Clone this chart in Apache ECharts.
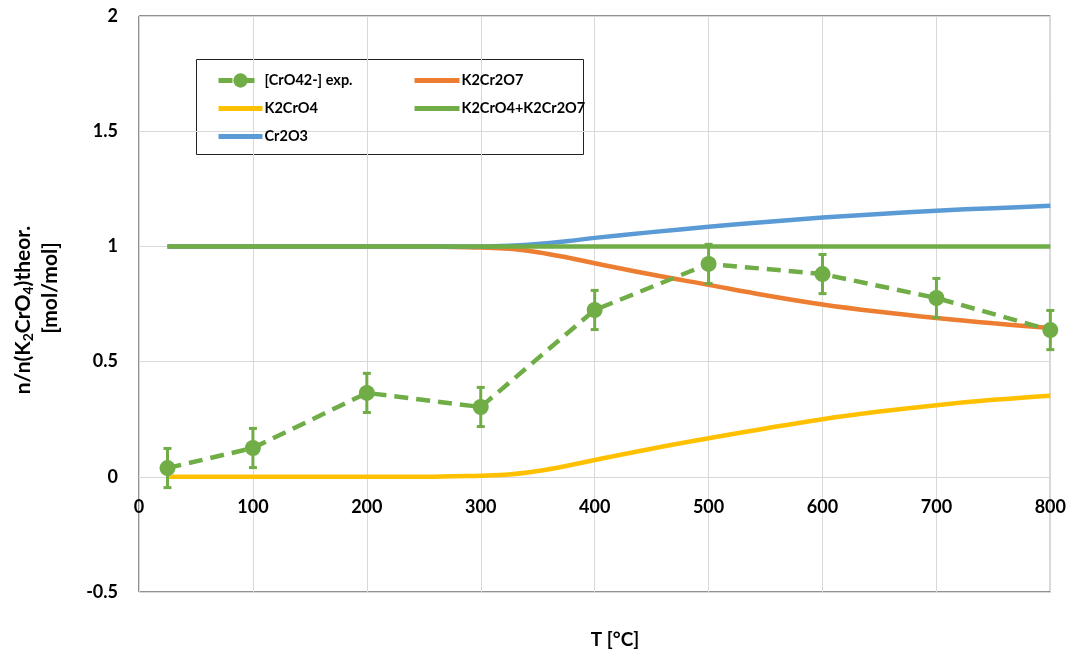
<!DOCTYPE html>
<html><head><meta charset="utf-8">
<script src="https://cdn.jsdelivr.net/npm/echarts@6/dist/echarts.min.js"></script>
<style>html,body{margin:0;padding:0;background:#fff}#c{width:1069px;height:649px}</style>
</head><body><div id="c"></div>
<script>
var expT = [25, 100, 200, 300, 400, 500, 600, 700, 800];
var expVal = [0.038, 0.125, 0.364, 0.303, 0.724, 0.924, 0.88, 0.776, 0.637];
var expErr = [0.085, 0.085, 0.085, 0.085, 0.085, 0.085, 0.085, 0.085, 0.085];

var curveT = [25, 100, 200, 250, 300, 325, 350, 375, 400, 450, 500, 550, 600, 650, 700, 750, 800];
var k2cr2o7 = [1, 1, 1, 1, 0.995, 0.99, 0.975, 0.953, 0.927, 0.878, 0.833, 0.788, 0.748, 0.716, 0.689, 0.666, 0.646];
var k2cro4 = [0, 0, 0, 0, 0.005, 0.01, 0.025, 0.047, 0.073, 0.122, 0.167, 0.21, 0.25, 0.283, 0.311, 0.334, 0.352];
var sumLine = [1, 1, 1, 1, 1, 1, 1, 1, 1, 1, 1, 1, 1, 1, 1, 1, 1];
var cr2o3 = [1, 1, 1, 1, 1, 1.003, 1.01, 1.022, 1.037, 1.062, 1.085, 1.106, 1.125, 1.141, 1.155, 1.166, 1.176];

var yTicks = ['-0.5', '0', '0.5', '1', '1.5', '2'];

var FONT = 'Lato, "Open Sans", sans-serif';
var cGreen = '#70AD47', cOrange = '#ED7D31', cYellow = '#FFC000', cBlue = '#5B9BD5';

function pairs(xs, ys) { return xs.map(function (x, i) { return [x, ys[i]]; }); }

var legendText = { fontSize: 14.5, fontWeight: 'bold', color: '#000', fontFamily: FONT, padding: [0, 0, 0, -3] };
var hideSym = { opacity: 0 };

var chart = echarts.init(document.getElementById('c'));
chart.setOption({
  animation: false,
  textStyle: { fontFamily: FONT },
  grid: { left: 139, right: 18, top: 16, bottom: 57, show: true, borderColor: '#222', borderWidth: 1 },
  xAxis: {
    type: 'value', min: 0, max: 800, interval: 100, position: 'bottom', offset: -115.2,
    axisLine: { show: true, onZero: false, lineStyle: { color: '#d9d9d9', width: 1 } },
    axisTick: { show: false },
    axisLabel: { fontSize: 18, fontWeight: 'bold', color: '#000', margin: 21, fontFamily: FONT },
    splitLine: { show: true, lineStyle: { color: '#d9d9d9', width: 1 } }
  },
  yAxis: {
    type: 'value', min: -0.5, max: 2, interval: 0.5,
    axisLine: { show: false }, axisTick: { show: false },
    axisLabel: { fontSize: 18, fontWeight: 'bold', color: '#000', margin: 21, fontFamily: FONT,
      formatter: function (v) { return yTicks[Math.round((v + 0.5) / 0.5)]; } },
    splitLine: { show: true, lineStyle: { color: '#d9d9d9', width: 1 } }
  },
  legend: [
    { orient: 'vertical', left: 211, top: 68, itemWidth: 44, itemHeight: 18, itemGap: 13,
      textStyle: legendText, lineStyle: { width: 5 },
      data: ['[CrO42-] exp.', { name: 'K2CrO4', itemStyle: hideSym }, { name: 'Cr2O3', itemStyle: hideSym }] },
    { orient: 'vertical', left: 407, top: 68, itemWidth: 45, itemHeight: 18, itemGap: 13,
      textStyle: legendText, lineStyle: { width: 5 },
      data: [{ name: 'K2Cr2O7', itemStyle: hideSym }, { name: 'K2CrO4+K2Cr2O7', itemStyle: hideSym }] }
  ],
  graphic: [
    { type: 'rect', left: 196, top: 59, shape: { width: 387, height: 95 },
      style: { fill: 'rgba(255,255,255,0)', stroke: '#222', lineWidth: 1 }, z: 0 },
    { type: 'text', x: 23, y: 310, rotation: Math.PI / 2, z: 10,
      style: {
        text: '{a|n/n(K}{s|2}{a|CrO}{s|4}{a|)theor.}',
        align: 'center', verticalAlign: 'middle',
        rich: {
          a: { fontSize: 21, fontWeight: 'bold', fill: '#000', fontFamily: FONT },
          s: { fontSize: 14, fontWeight: 'bold', fill: '#000', fontFamily: FONT, padding: [10, 0, 0, 0] }
        }
      } },
    { type: 'text', x: 50, y: 288, rotation: Math.PI / 2, z: 10,
      style: { text: '[mol/mol]', align: 'center', verticalAlign: 'middle',
        fontSize: 21, fontWeight: 'bold', fill: '#000', fontFamily: FONT } },
    { type: 'text', x: 615, y: 640, z: 10,
      style: { text: 'T [°C]', align: 'center', verticalAlign: 'middle',
        fontSize: 19, fontWeight: 'bold', fill: '#000', fontFamily: FONT } }
  ],
  series: [
    { name: 'K2CrO4', type: 'line', data: pairs(curveT, k2cro4), smooth: 0.4, showSymbol: false,
      symbol: 'none', color: cYellow, lineStyle: { width: 4.5, color: cYellow }, z: 2 },
    { name: 'K2Cr2O7', type: 'line', data: pairs(curveT, k2cr2o7), smooth: 0.4, showSymbol: false,
      symbol: 'none', color: cOrange, lineStyle: { width: 4.5, color: cOrange }, z: 2 },
    { name: 'Cr2O3', type: 'line', data: pairs(curveT, cr2o3), smooth: 0.4, showSymbol: false,
      symbol: 'none', color: cBlue, lineStyle: { width: 4.5, color: cBlue }, z: 2 },
    { name: 'K2CrO4+K2Cr2O7', type: 'line', data: pairs(curveT, sumLine), showSymbol: false,
      symbol: 'none', color: cGreen, lineStyle: { width: 4.5, color: cGreen }, z: 3 },
    { name: 'errbars', type: 'custom', z: 4,
      data: expT.map(function (t, i) { return [t, expVal[i] - expErr[i], expVal[i] + expErr[i]]; }),
      renderItem: function (params, api) {
        var lo = api.coord([api.value(0), api.value(1)]);
        var hi = api.coord([api.value(0), api.value(2)]);
        var w = 4;
        var st = { stroke: cGreen, lineWidth: 3 };
        return { type: 'group', children: [
          { type: 'line', shape: { x1: lo[0], y1: lo[1], x2: hi[0], y2: hi[1] }, style: st },
          { type: 'line', shape: { x1: lo[0] - w, y1: lo[1], x2: lo[0] + w, y2: lo[1] }, style: st },
          { type: 'line', shape: { x1: hi[0] - w, y1: hi[1], x2: hi[0] + w, y2: hi[1] }, style: st }
        ] };
      } },
    { name: '[CrO42-] exp.', type: 'line', data: pairs(expT, expVal), symbol: 'circle', symbolSize: 16,
      color: cGreen, itemStyle: { color: cGreen },
      lineStyle: { width: 4.5, color: cGreen, type: [14, 8] }, z: 5 }
  ]
});
</script></body></html>
